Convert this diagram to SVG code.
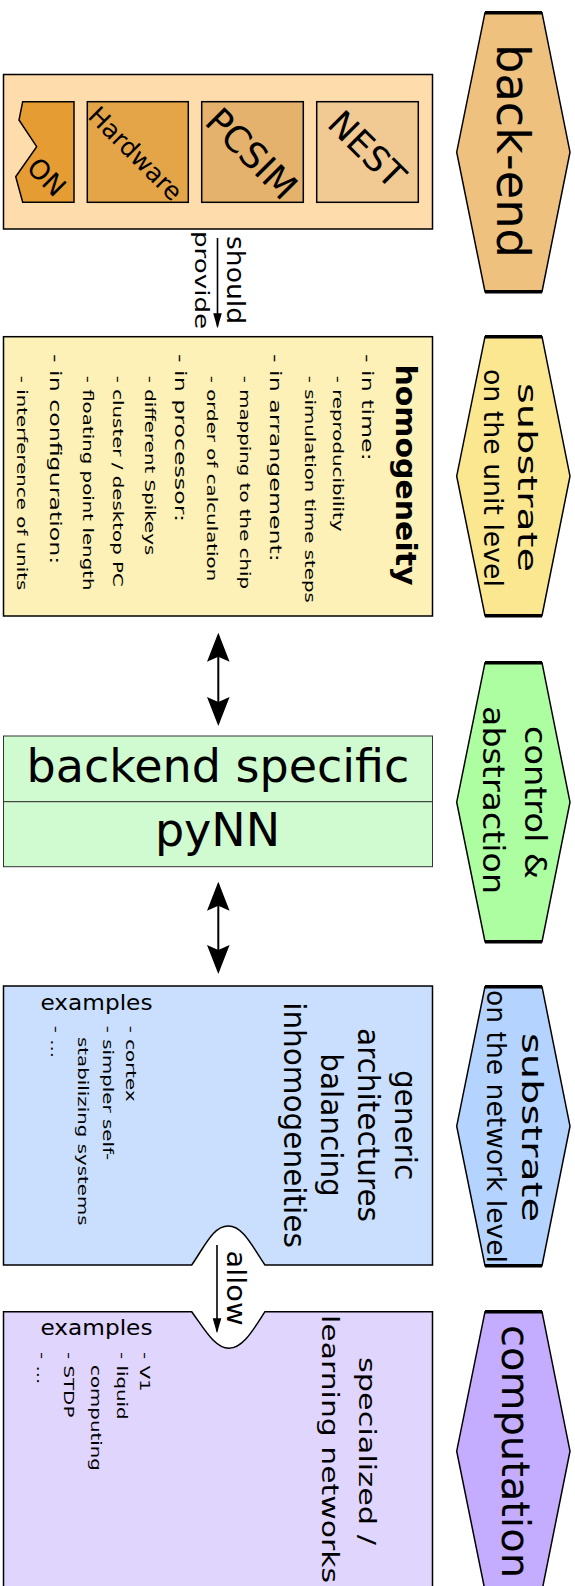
<svg xmlns="http://www.w3.org/2000/svg" width="575" height="1586" viewBox="0 0 575 1586">
  <style>
    .t { font-family: "DejaVu Sans", "Liberation Sans", sans-serif; fill: #000; }
    .b { font-weight: bold; }
    .edge { stroke: #000; stroke-width: 1.5; }
    .thin { stroke: #333; stroke-width: 1; }
    .line { stroke: #000; stroke-width: 1.6; fill: none; }
    .dbl { stroke: #000; stroke-width: 2; fill: none; }
    .maj { font-size: 15.8px; }
    .min { font-size: 13.4px; }
  </style>
  <defs>
    <!-- hexagonal layer label, positioned with a vertical translate -->
    <g id="hex">
      <polygon points="485,0 542,0 570,139.5 542,279 485,279 456.7,139.5" stroke="#000" stroke-width="1.5"/>
      <line x1="485" y1="0" x2="542" y2="0" stroke="#000" stroke-width="3.5"/>
      <line x1="485" y1="279" x2="542" y2="279" stroke="#000" stroke-width="3.5"/>
    </g>
    <marker id="small" viewBox="0 -5 15 10" refX="13" refY="0" markerWidth="15" markerHeight="10" markerUnits="userSpaceOnUse" orient="auto">
      <path d="M0,-4.3 L15,0 L0,4.3 Z" fill="#000"/>
    </marker>
    <marker id="big" viewBox="0 -12 29 24" refX="26" refY="0" markerWidth="29" markerHeight="24" markerUnits="userSpaceOnUse" orient="auto-start-reverse">
      <path d="M0,-11.3 L29,0 L0,11.3 L5,0 Z" fill="#000"/>
    </marker>
  </defs>

  <!-- layer labels on the right -->
  <g id="label-backend">
    <use href="#hex" y="12.7" fill="#eec27e"/>
    <text class="t" font-size="46" textLength="214" lengthAdjust="spacingAndGlyphs" transform="translate(497,44) rotate(90)">back-end</text>
  </g>
  <g id="label-unit">
    <use href="#hex" y="336.7" fill="#fbe78f"/>
    <text class="t" font-size="27" textLength="189" lengthAdjust="spacingAndGlyphs" transform="translate(518.3,383) rotate(90)">substrate</text>
    <text class="t" font-size="27" textLength="218" lengthAdjust="spacingAndGlyphs" transform="translate(483.5,369) rotate(90)">on the unit level</text>
  </g>
  <g id="label-control">
    <use href="#hex" y="662.7" fill="#acfea0"/>
    <text class="t" font-size="31" textLength="153" lengthAdjust="spacingAndGlyphs" transform="translate(525,726) rotate(90)">control &amp;</text>
    <text class="t" font-size="31" textLength="188" lengthAdjust="spacingAndGlyphs" transform="translate(483.3,706) rotate(90)">abstraction</text>
  </g>
  <g id="label-network">
    <use href="#hex" y="986.7" fill="#b4d3fe"/>
    <text class="t" font-size="28" textLength="189" lengthAdjust="spacingAndGlyphs" transform="translate(521.7,1033) rotate(90)">substrate</text>
    <text class="t" font-size="26" textLength="273" lengthAdjust="spacingAndGlyphs" transform="translate(486.7,990) rotate(90)">on the network level</text>
  </g>
  <g id="label-computation">
    <use href="#hex" y="1311.7" fill="#c4acfe"/>
    <text class="t" font-size="39" textLength="253" lengthAdjust="spacingAndGlyphs" transform="translate(501.7,1325) rotate(90)">computation</text>
  </g>

  <!-- back-end implementations -->
  <g id="backends">
    <rect class="edge" x="3.5" y="74.5" width="429" height="154.5" fill="#fedcac"/>
    <polygon class="edge" points="22.7,101.7 19,120 36.7,146.7 15.7,176.7 22.7,202.3 74,202.3 74,101.7" fill="#e49c33"/>
    <rect class="edge" x="87.3" y="101.7" width="101" height="100.6" fill="#e4a548"/>
    <rect class="edge" x="201.7" y="101.7" width="101.6" height="100.6" fill="#e5b26e"/>
    <rect class="edge" x="316.7" y="101.7" width="101.6" height="100.6" fill="#f0c993"/>
    <text class="t" font-size="27" text-anchor="middle" transform="translate(39.8,183.6) rotate(45)">ON</text>
    <text class="t" font-size="25" text-anchor="middle" transform="translate(129.3,159.8) rotate(45)">Hardware</text>
    <text class="t" font-size="36" text-anchor="middle" transform="translate(242.7,162.6) rotate(45)">PCSIM</text>
    <text class="t" font-size="35" text-anchor="middle" transform="translate(358.3,158) rotate(45)">NEST</text>
  </g>

  <!-- homogeneity requirements -->
  <g id="homogeneity">
    <rect class="edge" x="3.5" y="336.7" width="429" height="279.3" fill="#fdf1b7"/>
    <text class="t b" font-size="29" textLength="221" lengthAdjust="spacingAndGlyphs" transform="translate(396,364.5) rotate(90)">homogeneity</text>
    <text class="t maj" transform="translate(362,354) rotate(90) scale(1.5,1)">- in time:</text>
    <text class="t min" transform="translate(333,375.7) rotate(90) scale(1.48,1)">- reproducibility</text>
    <text class="t min" transform="translate(304.8,375.7) rotate(90) scale(1.48,1)">- simulation time steps</text>
    <text class="t maj" transform="translate(270.4,354) rotate(90) scale(1.5,1)">- in arrangement:</text>
    <text class="t min" transform="translate(239.8,375.7) rotate(90) scale(1.48,1)">- mapping to the chip</text>
    <text class="t min" transform="translate(207,375.7) rotate(90) scale(1.48,1)">- order of calculation</text>
    <text class="t maj" transform="translate(175.4,354) rotate(90) scale(1.5,1)">- in processor:</text>
    <text class="t min" transform="translate(144.8,375.7) rotate(90) scale(1.48,1)">- different Spikeys</text>
    <text class="t min" transform="translate(113.1,375.7) rotate(90) scale(1.48,1)">- cluster / desktop PC</text>
    <text class="t min" transform="translate(83.1,375.7) rotate(90) scale(1.48,1)">- floating point length</text>
    <text class="t maj" transform="translate(50.4,354) rotate(90) scale(1.5,1)">- in configuration:</text>
    <text class="t min" transform="translate(17,375.7) rotate(90) scale(1.48,1)">- interference of units</text>
  </g>

  <!-- abstraction layer -->
  <g id="pynn">
    <rect class="thin" x="3.5" y="736" width="429" height="65.7" fill="#d0fbd0"/>
    <rect class="thin" x="3.5" y="801.7" width="429" height="65" fill="#d0fbd0"/>
    <text class="t" font-size="46" text-anchor="middle" x="218" y="781.7">backend specific</text>
    <text class="t" font-size="46" text-anchor="middle" x="217.5" y="846">pyNN</text>
  </g>

  <!-- generic network architectures -->
  <g id="generic">
    <path class="edge" fill="#cadffd" d="M3.5,986 H432.5 V1265 H265 C252,1246 243,1226 228.3,1226 C213,1226 205,1246 191.7,1265 H3.5 Z"/>
    <text class="t" font-size="29.5" text-anchor="middle" transform="translate(395,1125) rotate(90)">generic</text>
    <text class="t" font-size="29.5" text-anchor="middle" transform="translate(358,1125) rotate(90)">architectures</text>
    <text class="t" font-size="29.5" text-anchor="middle" transform="translate(321,1125) rotate(90)">balancing</text>
    <text class="t" font-size="29.5" text-anchor="middle" transform="translate(284,1125) rotate(90)">inhomogeneities</text>
    <text class="t" font-size="20.5" textLength="112" lengthAdjust="spacingAndGlyphs" x="40.5" y="1010">examples</text>
    <text class="t min" transform="translate(126,1025.7) rotate(90) scale(1.48,1)">- cortex</text>
    <text class="t min" transform="translate(103,1025.7) rotate(90) scale(1.48,1)">- simpler self-</text>
    <text class="t min" transform="translate(78,1037) rotate(90) scale(1.48,1)">stabilizing systems</text>
    <text class="t min" transform="translate(51,1025.7) rotate(90) scale(1.48,1)">- ...</text>
  </g>

  <!-- specialized learning networks -->
  <g id="specialized">
    <path class="edge" fill="#e0d5fd" d="M3.5,1311.7 H191.7 C205,1330 215,1348.3 229,1348.3 C243,1348.3 253,1330 265,1311.7 H432.5 V1600 H3.5 Z"/>
    <text class="t" font-size="22.5" textLength="188" lengthAdjust="spacingAndGlyphs" transform="translate(358.6,1357) rotate(90)">specialized /</text>
    <text class="t" font-size="22.5" textLength="268" lengthAdjust="spacingAndGlyphs" transform="translate(322,1315) rotate(90)">learning networks</text>
    <text class="t" font-size="20.5" textLength="112" lengthAdjust="spacingAndGlyphs" x="40.5" y="1335">examples</text>
    <text class="t min" transform="translate(140,1352) rotate(90) scale(1.48,1)">- V1</text>
    <text class="t min" transform="translate(117,1352) rotate(90) scale(1.48,1)">- liquid</text>
    <text class="t min" transform="translate(90.5,1365) rotate(90) scale(1.48,1)">computing</text>
    <text class="t min" transform="translate(64,1352) rotate(90) scale(1.48,1)">- STDP</text>
    <text class="t min" transform="translate(37,1352) rotate(90) scale(1.48,1)">- ...</text>
  </g>

  <!-- connectors -->
  <g id="connectors">
    <line class="line" x1="217.5" y1="238" x2="217.5" y2="326.3" marker-end="url(#small)"/>
    <text class="t" font-size="25" textLength="88" lengthAdjust="spacingAndGlyphs" transform="translate(227,236) rotate(90)">should</text>
    <text class="t" font-size="20" textLength="98" lengthAdjust="spacingAndGlyphs" transform="translate(195,231) rotate(90)">provide</text>

    <line class="dbl" x1="218.3" y1="635.7" x2="218.3" y2="723" marker-start="url(#big)" marker-end="url(#big)"/>
    <line class="dbl" x1="218.3" y1="884.7" x2="218.3" y2="971" marker-start="url(#big)" marker-end="url(#big)"/>

    <line class="line" x1="217" y1="1245" x2="217" y2="1331.3" marker-end="url(#small)"/>
    <text class="t" font-size="26" textLength="75" lengthAdjust="spacingAndGlyphs" transform="translate(227,1250.5) rotate(90)">allow</text>
  </g>
</svg>
